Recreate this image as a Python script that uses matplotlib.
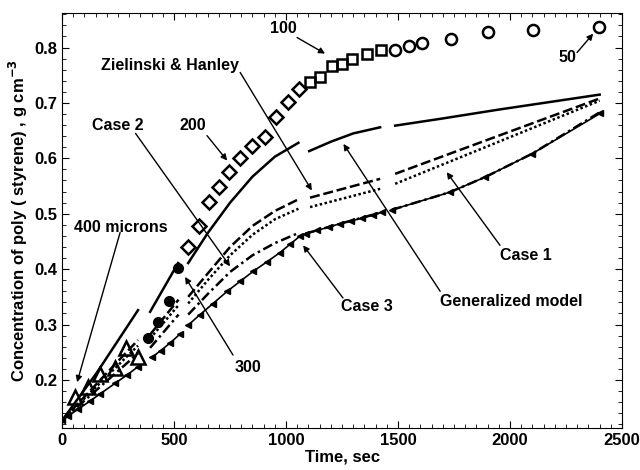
import numpy as np
import matplotlib
matplotlib.use("Agg")
import matplotlib.pyplot as plt
from matplotlib.ticker import MultipleLocator

plt.rcParams["font.family"] = ["Liberation Sans", "DejaVu Sans"]
plt.rcParams["font.weight"] = "bold"
plt.rcParams["font.size"] = 11.5

nan = np.nan

# experimental points, by particle size (microns)
t_400 = [58, 117, 170, 237, 284, 341]
c_400 = [0.170, 0.187, 0.211, 0.222, 0.258, 0.242]
t_300 = [384, 429, 478, 518]
c_300 = [0.276, 0.304, 0.342, 0.402]
t_200 = [563, 612, 656, 701, 746, 795, 848, 906, 955, 1009, 1058]
c_200 = [0.440, 0.477, 0.521, 0.548, 0.575, 0.600, 0.622, 0.638, 0.674, 0.701, 0.726]
t_100 = [1107, 1152, 1204, 1251, 1293, 1363, 1424]
c_100 = [0.737, 0.746, 0.766, 0.771, 0.780, 0.789, 0.796]
t_50 = [1487, 1549, 1607, 1737, 1902, 2103, 2397]
c_50 = [0.795, 0.802, 0.808, 0.816, 0.828, 0.831, 0.837]

# model curves (nan = break between particle sizes)
gen_t = [0, 155, 339, nan, 393, 518, nan, 563, 650, 750, 850, 950, 1055,
         nan, 1103, 1200, 1300, 1420, nan, 1487, 1700, 1950, 2200, 2400]
gen_c = [0.127, 0.213, 0.326, nan, 0.323, 0.411, nan, 0.411, 0.465, 0.52, 0.567, 0.603, 0.628,
         nan, 0.613, 0.630, 0.645, 0.656, nan, 0.659, 0.672, 0.688, 0.703, 0.715]

zh_t = [0, 339, nan, 393, 520, nan, 563, 650, 750, 850, 950, 1055,
        nan, 1107, 1420, nan, 1487, 2400]
zh_c = [0.127, 0.272, nan, 0.282, 0.345, nan, 0.350, 0.392, 0.440, 0.478, 0.505, 0.526,
        nan, 0.529, 0.563, nan, 0.572, 0.708]

case1_t = [0, 339, nan, 393, 520, nan, 563, 650, 750, 850, 950, 1055,
           nan, 1107, 1420, nan, 1487, 2400]
case1_c = [0.127, 0.262, nan, 0.275, 0.335, nan, 0.338, 0.380, 0.425, 0.462, 0.490, 0.509,
           nan, 0.512, 0.545, nan, 0.554, 0.704]

case2_t = [0, 339, nan, 393, 520, nan, 563, 650, 750, 850, 950, 1060,
           nan, 1085, 1250, 1430, nan, 1472, 1732, 1888, 2097, 2400]
case2_c = [0.127, 0.248, nan, 0.258, 0.318, nan, 0.318, 0.355, 0.395, 0.425, 0.447, 0.466,
           nan, 0.464, 0.483, 0.503, nan, 0.507, 0.539, 0.566, 0.608, 0.683]

case3_t = [0, 27, 71, 125, 170, 237, 290, 339, nan, 402, 440, 480, 527, nan,
           563, 616, 674, 737, 795, 853, 914, 973, 1018, 1063, nan,
           1090, 1140, 1190, 1240, 1290, 1340, 1390, 1430, nan,
           1472, 1732, 1888, 2097, 2402]
case3_c = [0.127, 0.135, 0.147, 0.162, 0.175, 0.194, 0.209, 0.224, nan, 0.241, 0.253, 0.266, 0.283, nan,
           0.299, 0.318, 0.338, 0.360, 0.378, 0.396, 0.413, 0.430, 0.445, 0.460, nan,
           0.464, 0.470, 0.476, 0.482, 0.487, 0.492, 0.498, 0.503, nan,
           0.507, 0.539, 0.566, 0.608, 0.681]

fig = plt.figure(figsize=(6.4, 4.7), dpi=100)
ax = fig.add_axes([0.097, 0.089, 0.875, 0.883])

lw = 1.8
ax.plot(gen_t, gen_c, color="k", lw=lw)
ax.plot(zh_t, zh_c, color="k", lw=lw, dashes=(4, 1.5))
ax.plot(case1_t, case1_c, color="k", lw=lw, dashes=(1, 1))
ax.plot(case2_t, case2_c, color="k", lw=lw, dashes=(4, 1.5, 1, 1.5))
ax.plot(case3_t, case3_c, color="k", lw=1.2, marker="<", ms=5, mfc="k", mec="k")

mk = dict(ls="none", color="k", mfc="none", mew=1.8)
ax.plot(t_400, c_400, marker="^", ms=10, **mk)
ax.plot(t_300, c_300, marker="o", ms=7, ls="none", color="k")
ax.plot(t_200, c_200, marker="D", ms=7, **mk)
ax.plot(t_100, c_100, marker="s", ms=7, **mk)
ax.plot(t_50, c_50, marker="o", ms=8, **mk)

arr = dict(arrowstyle="-|>", color="k", lw=1.0, mutation_scale=9, shrinkA=0, shrinkB=0)
notes = [
    ("100", (987, 0.834), (1049, 0.818), (1174, 0.789)),
    ("50", (2254, 0.782), (2299, 0.791), (2371, 0.825)),
    ("Zielinski & Hanley", (482, 0.768), (795, 0.755), (1115, 0.542)),
    ("Case 2", (250, 0.659), (328, 0.645), (750, 0.405)),
    ("200", (585, 0.659), (647, 0.641), (737, 0.596)),
    ("400 microns", (263, 0.476), (259, 0.466), (67, 0.196)),
    ("300", (830, 0.223), (763, 0.245), (549, 0.386)),
    ("Case 3", (1360, 0.332), (1254, 0.348), (1076, 0.443)),
    ("Generalized model", (2007, 0.341), (1688, 0.36), (1256, 0.626)),
    ("Case 1", (2071, 0.425), (1955, 0.443), (1717, 0.575)),
]
for txt, pos, start, tip in notes:
    ax.text(pos[0], pos[1], txt, ha="center", va="center", fontweight="bold", fontsize=11.5)
    ax.annotate("", xy=tip, xytext=start, arrowprops=arr)

ax.set_xlim(0, 2500)
ax.set_ylim(0.113, 0.862)
ax.xaxis.set_major_locator(MultipleLocator(500))
ax.xaxis.set_minor_locator(MultipleLocator(50))
ax.yaxis.set_major_locator(MultipleLocator(0.1))
ax.yaxis.set_minor_locator(MultipleLocator(0.02))
ax.tick_params(which="both", direction="in", top=True, right=True, labelsize=12)
ax.tick_params(which="major", length=5)
ax.tick_params(which="minor", length=3)
for lab in ax.get_xticklabels() + ax.get_yticklabels():
    lab.set_fontweight("bold")
ax.set_xlabel("Time, sec", fontweight="bold", fontsize=12, labelpad=1)
ax.set_ylabel("Concentration of poly ( styrene) , g cm$^{\\mathbf{-3}}$", fontweight="bold", fontsize=12,
              labelpad=3)

fig.savefig("out.png", dpi=100)
